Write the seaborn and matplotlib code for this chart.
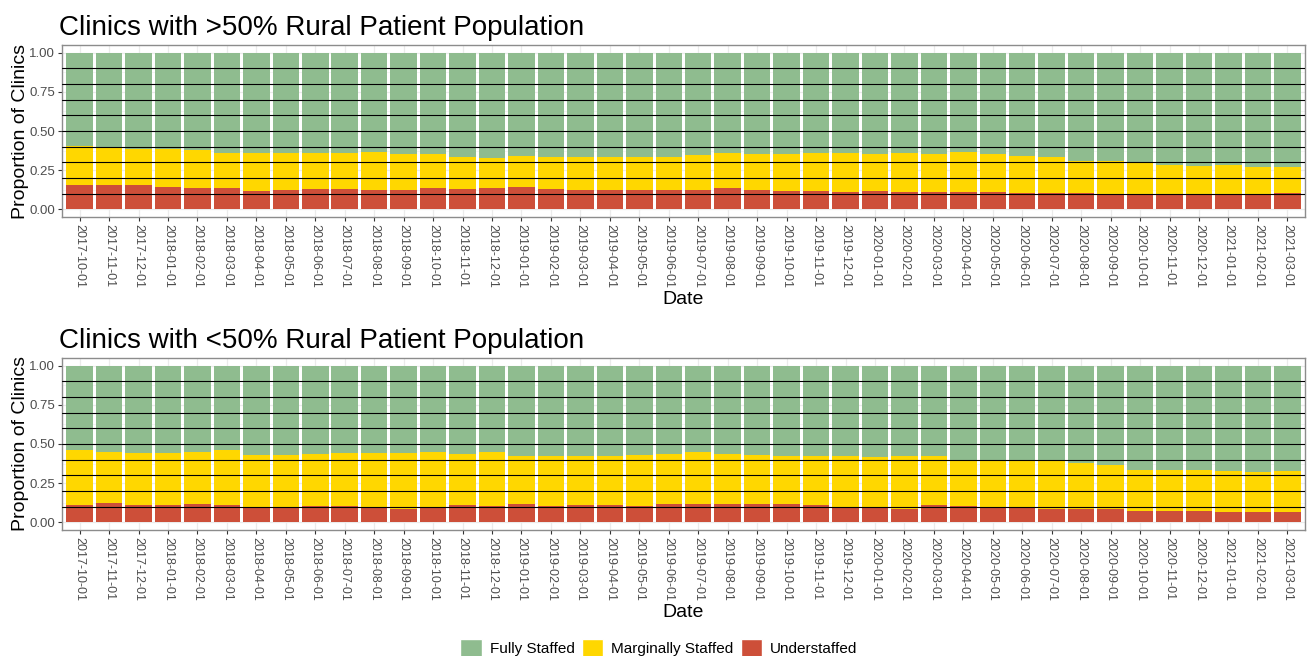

# Staffing levels by rurality - stacked proportion bars

import pandas as pd
import seaborn as sns
import matplotlib.pyplot as plt
from matplotlib.patches import Patch

# months on the x axis
Dates = pd.date_range("2017-10-01", "2021-03-01", freq="MS").strftime("%Y-%m-%d").tolist()

Statuses = ["Fully Staffed", "Marginally Staffed", "Understaffed"]
Colors = {"Fully Staffed": "#8FBC8F", "Marginally Staffed": "#FFD700", "Understaffed": "#CD4F39"}

# >50% rural clinics
Rural_Under = [0.152, 0.152, 0.152, 0.145, 0.137, 0.137, 0.118, 0.124, 0.130, 0.130,
               0.124, 0.124, 0.137, 0.130, 0.137, 0.145, 0.130, 0.124, 0.124, 0.124,
               0.124, 0.124, 0.137, 0.124, 0.118, 0.118, 0.113, 0.118, 0.113, 0.113,
               0.113, 0.109, 0.103, 0.103, 0.103, 0.092, 0.088, 0.088, 0.088, 0.092,
               0.092, 0.103]
Rural_Marginal = [0.254, 0.245, 0.235, 0.237, 0.241, 0.224, 0.239, 0.237, 0.231, 0.231,
                  0.244, 0.226, 0.218, 0.205, 0.188, 0.197, 0.201, 0.207, 0.207, 0.211,
                  0.211, 0.222, 0.224, 0.226, 0.232, 0.243, 0.248, 0.232, 0.244, 0.237,
                  0.255, 0.241, 0.239, 0.228, 0.207, 0.218, 0.207, 0.196, 0.186, 0.188,
                  0.175, 0.164]

# <50% rural clinics
Urban_Under = [0.111, 0.121, 0.111, 0.111, 0.117, 0.111, 0.098, 0.098, 0.106, 0.106,
               0.098, 0.087, 0.098, 0.111, 0.106, 0.117, 0.106, 0.111, 0.111, 0.106,
               0.117, 0.117, 0.117, 0.117, 0.117, 0.111, 0.098, 0.098, 0.087, 0.111,
               0.106, 0.098, 0.098, 0.087, 0.081, 0.081, 0.074, 0.074, 0.074, 0.068,
               0.068, 0.062]
Urban_Marginal = [0.351, 0.328, 0.332, 0.332, 0.332, 0.351, 0.334, 0.334, 0.332, 0.337,
                  0.345, 0.356, 0.351, 0.327, 0.343, 0.309, 0.315, 0.310, 0.310, 0.326,
                  0.319, 0.332, 0.321, 0.315, 0.309, 0.310, 0.323, 0.317, 0.334, 0.310,
                  0.290, 0.291, 0.291, 0.302, 0.298, 0.287, 0.262, 0.262, 0.262, 0.258,
                  0.255, 0.266]

sns.set_style("white")
plt.rcParams["font.family"] = ["Liberation Sans", "DejaVu Sans"]
plt.rcParams["text.color"] = "black"
plt.rcParams["axes.labelcolor"] = "black"


def stack_frame(Under, Marginal):
    # cumulative tops so overlapping bars look stacked
    Rows = []
    for d, u, m in zip(Dates, Under, Marginal):
        f = 1 - u - m
        Rows.append({"Date": d, "Status": "Fully Staffed", "Top": u + m + f})
        Rows.append({"Date": d, "Status": "Marginally Staffed", "Top": u + m})
        Rows.append({"Date": d, "Status": "Understaffed", "Top": u})
    return pd.DataFrame(Rows)


def plot_panel(ax, Under, Marginal, title):
    ax.set_axisbelow(True)
    sns.barplot(data=stack_frame(Under, Marginal), x="Date", y="Top", hue="Status",
                hue_order=Statuses, palette=Colors, order=Dates, dodge=False,
                width=0.9, saturation=1, linewidth=0, legend=False, ax=ax)
    ax.set_yticks([0, 0.25, 0.5, 0.75, 1.0])
    ax.set_yticks([0.125, 0.375, 0.625, 0.875], minor=True)
    ax.grid(True, which="major", color="#EBEBEB", linewidth=0.9)
    ax.grid(True, which="minor", axis="y", color="#F2F2F2", linewidth=0.5)
    for h in [0.1, 0.2, 0.3, 0.4, 0.5, 0.6, 0.7, 0.8, 0.9]:
        ax.axhline(h, color="black", linewidth=0.8, zorder=5)
    ax.set_xlim(-0.6, len(Dates) - 0.4)
    ax.set_ylim(-0.05, 1.05)
    ax.set_yticklabels(["0.00", "0.25", "0.50", "0.75", "1.00"])
    ax.tick_params(axis="x", rotation=270, labelsize=9, labelcolor="#4D4D4D",
                   length=3, color="#333333", pad=2, bottom=True)
    ax.tick_params(axis="y", labelsize=9.5, labelcolor="#4D4D4D", length=3,
                   color="#333333", pad=2, left=True)
    ax.tick_params(which="minor", length=0)
    for s in ax.spines.values():
        s.set_color("#8C8C8C")
        s.set_linewidth(1)
    ax.set_xlabel("Date", fontsize=14, labelpad=2)
    ax.set_ylabel("Proportion of Clinics", fontsize=14, labelpad=0)
    ax.set_title(title, loc="left", fontsize=20, pad=7, x=-0.002, color="black")


fig = plt.figure(figsize=(13.1, 6.56), dpi=100)
ax1 = fig.add_axes([0.0473, 0.6692, 0.9489, 0.2622])
ax2 = fig.add_axes([0.0473, 0.1921, 0.9489, 0.2622])

plot_panel(ax1, Rural_Under, Rural_Marginal, "Clinics with >50% Rural Patient Population")
plot_panel(ax2, Urban_Under, Urban_Marginal, "Clinics with <50% Rural Patient Population")

Handles = [Patch(facecolor=Colors[s], label=s) for s in Statuses]
fig.legend(handles=Handles, loc="center", bbox_to_anchor=(0.503, 0.012), ncol=3,
           frameon=False, fontsize=11, handlelength=1.4, handleheight=1.4,
           handletextpad=0.5, columnspacing=0.5, borderpad=0)

plt.savefig("out.png", dpi=100)
